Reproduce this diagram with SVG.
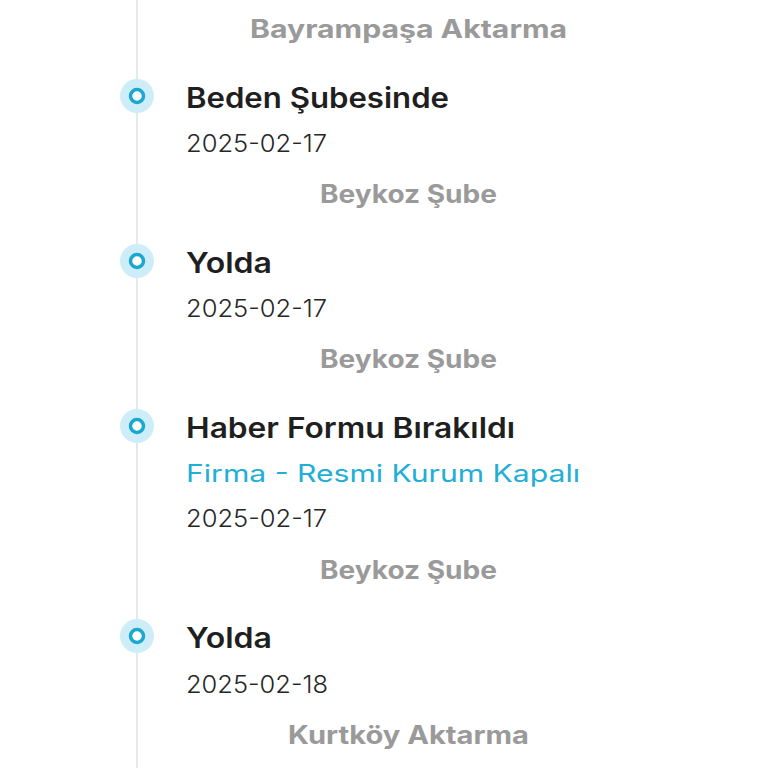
<svg xmlns="http://www.w3.org/2000/svg" width="768" height="768" viewBox="0 0 768 768">
<style>
text{font-family:Inter,"Noto Sans",sans-serif}
.t{font-size:28px;font-weight:600;fill:#1f1f1f}
.d{font-size:24px;font-weight:300;fill:#262626}
.l{font-size:25px;font-weight:700;fill:#9a9a9a}
.f{font-size:24px;font-weight:400;fill:#22aed6}
.halo{fill:#cdeef8}
.ring{fill:#fff;stroke:#1aa7d0;stroke-width:3.5}
</style>
<rect width="768" height="768" fill="#fff"/>
<g id="connectors"><line x1="137" y1="0" x2="137" y2="768" stroke="#e6e8eb" stroke-width="2"/></g>
<g id="label0"><text class="l" x="250" y="38" textLength="317" lengthAdjust="spacingAndGlyphs">Bayrampaşa Aktarma</text></g>
<g id="node1">
<circle class="halo" cx="137" cy="96" r="17"/><circle class="ring" cx="137" cy="96" r="6.5"/>
<text class="t" x="186" y="108" textLength="263" lengthAdjust="spacingAndGlyphs">Beden Şubesinde</text>
<text class="d" x="186" y="152" textLength="141" lengthAdjust="spacingAndGlyphs">2025-02-17</text>
<text class="l" x="320" y="203" textLength="177" lengthAdjust="spacingAndGlyphs">Beykoz Şube</text>
</g>
<g id="node2">
<circle class="halo" cx="137" cy="261" r="17"/><circle class="ring" cx="137" cy="261" r="6.5"/>
<text class="t" x="186" y="273" textLength="86" lengthAdjust="spacingAndGlyphs">Yolda</text>
<text class="d" x="186" y="317" textLength="141" lengthAdjust="spacingAndGlyphs">2025-02-17</text>
<text class="l" x="320" y="368" textLength="177" lengthAdjust="spacingAndGlyphs">Beykoz Şube</text>
</g>
<g id="node3">
<circle class="halo" cx="137" cy="426" r="17"/><circle class="ring" cx="137" cy="426" r="6.5"/>
<text class="t" x="186" y="438" textLength="329" lengthAdjust="spacingAndGlyphs">Haber Formu Bırakıldı</text>
<text class="f" x="186" y="482" textLength="394" lengthAdjust="spacingAndGlyphs">Firma - Resmi Kurum Kapalı</text>
<text class="d" x="186" y="527" textLength="141" lengthAdjust="spacingAndGlyphs">2025-02-17</text>
<text class="l" x="320" y="579" textLength="177" lengthAdjust="spacingAndGlyphs">Beykoz Şube</text>
</g>
<g id="node4">
<circle class="halo" cx="137" cy="636" r="17"/><circle class="ring" cx="137" cy="636" r="6.5"/>
<text class="t" x="186" y="648" textLength="86" lengthAdjust="spacingAndGlyphs">Yolda</text>
<text class="d" x="186" y="693" textLength="142" lengthAdjust="spacingAndGlyphs">2025-02-18</text>
<text class="l" x="288" y="744" textLength="241" lengthAdjust="spacingAndGlyphs">Kurtköy Aktarma</text>
</g>
</svg>
